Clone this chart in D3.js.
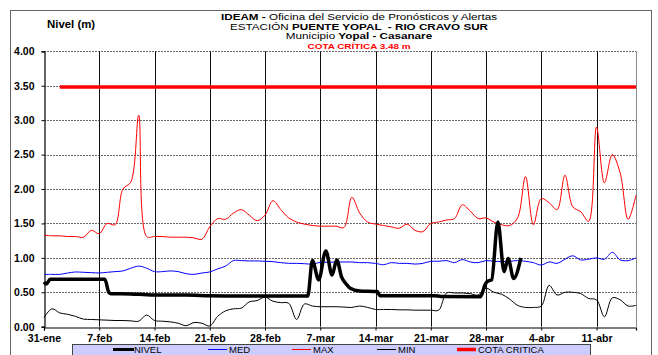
<!DOCTYPE html>
<html><head><meta charset="utf-8">
<script src="https://cdnjs.cloudflare.com/ajax/libs/d3/7.8.5/d3.min.js"></script>
<style>
html,body{margin:0;padding:0;background:#fff;}
svg{display:block;font-family:"Liberation Sans",Arial,sans-serif;}
</style></head>
<body><svg id="c" width="658" height="355"></svg>
<script>
// ---- data ----
const startDate = "2015-01-31";
const endDate = "2015-04-16";
const tickDates = ["2015-01-31","2015-02-07","2015-02-14","2015-02-21","2015-02-28","2015-03-07","2015-03-14","2015-03-21","2015-03-28","2015-04-04","2015-04-11"];
const yTicks = [0,0.5,1,1.5,2,2.5,3,3.5,4];
const meses = ["ene","feb","mar","abr","may","jun","jul","ago","sep","oct","nov","dic"];

// daily series, starting 31-ene
const maxValues = [1.33,1.32,1.32,1.31,1.31,1.30,1.40,1.35,1.50,1.48,2.00,2.10,3.07,1.31,1.31,1.31,1.30,1.30,1.30,1.29,1.27,1.45,1.57,1.56,1.65,1.70,1.62,1.54,1.62,1.83,1.70,1.58,1.52,1.49,1.47,1.46,1.46,1.46,1.44,1.88,1.65,1.52,1.49,1.47,1.45,1.43,1.49,1.40,1.38,1.50,1.52,1.55,1.57,1.77,1.68,1.57,1.58,1.52,1.48,1.47,1.58,2.18,1.48,1.86,1.80,1.70,2.20,1.74,1.67,1.53,2.90,2.09,2.50,2.23,1.56,1.91];
const medValues = [0.76,0.76,0.76,0.78,0.795,0.79,0.785,0.78,0.79,0.80,0.81,0.85,0.88,0.85,0.80,0.80,0.81,0.80,0.77,0.76,0.78,0.795,0.84,0.88,0.96,0.96,0.955,0.955,0.95,0.945,0.93,0.92,0.92,0.915,0.91,0.935,0.935,0.94,0.94,0.94,0.93,0.93,0.92,0.90,0.93,0.92,0.92,0.91,0.92,0.95,0.95,0.96,0.93,0.975,0.94,0.93,0.96,0.95,0.945,0.95,0.96,0.95,0.93,0.895,0.94,0.92,0.98,1.03,0.97,0.98,1.00,0.98,1.08,0.97,0.96,1.00];
const minValues = [0.13,0.26,0.20,0.18,0.15,0.11,0.105,0.10,0.095,0.09,0.09,0.085,0.08,0.17,0.09,0.08,0.07,0.05,0.015,0.06,0.05,0.01,0.15,0.23,0.26,0.27,0.36,0.38,0.43,0.37,0.35,0.34,0.105,0.33,0.30,0.29,0.29,0.29,0.285,0.28,0.30,0.28,0.25,0.25,0.25,0.245,0.245,0.24,0.24,0.24,0.24,0.49,0.49,0.49,0.48,0.46,0.56,0.50,0.47,0.40,0.31,0.28,0.28,0.30,0.60,0.46,0.50,0.50,0.48,0.41,0.39,0.145,0.42,0.39,0.30,0.31];

// NIVEL observations (date-time, m)
const nivelTimes = ["2015-01-31T00:00","2015-01-31T07:00","2015-01-31T19:00","2015-02-07T17:00","2015-02-08T05:00","2015-02-08T12:00","2015-02-11T00:00","2015-02-13T00:00","2015-02-15T00:00","2015-02-18T00:00","2015-02-21T00:00","2015-02-25T00:00","2015-02-28T00:00","2015-03-05T10:00","2015-03-06T00:00","2015-03-06T19:00","2015-03-07T17:00","2015-03-08T12:00","2015-03-09T02:00","2015-03-09T17:00","2015-03-10T07:00","2015-03-10T19:00","2015-03-12T00:00","2015-03-14T05:00","2015-03-14T14:00","2015-03-21T12:00","2015-03-22T07:00","2015-03-27T07:00","2015-03-27T22:00","2015-03-28T05:00","2015-03-28T17:00","2015-03-29T12:00","2015-03-30T07:00","2015-03-30T19:00","2015-03-31T12:00","2015-04-01T10:00"];
const nivelValues = [0.65,0.62,0.69,0.69,0.50,0.48,0.475,0.465,0.46,0.46,0.45,0.445,0.445,0.445,0.96,0.68,1.10,0.75,0.97,0.72,0.62,0.56,0.52,0.51,0.45,0.45,0.44,0.435,0.62,0.66,0.68,1.52,0.80,0.99,0.70,1.00];

const cotaCritica = 3.48;
const cotaStart = "2015-02-02";

// ---- drawing ----
const parse = d3.timeParse("%Y-%m-%d");
const parseT = d3.timeParse("%Y-%m-%dT%H:%M");
const t0 = parse(startDate), t1 = parse(endDate);
const days = maxValues.map((_, i) => d3.timeDay.offset(t0, i));

const svg = d3.select("#c");
const x = d3.scaleTime().domain([t0, t1]).range([44, 636]);
const y = d3.scaleLinear().domain([0, 4]).range([326.7, 51.3]);

// outer frame
svg.append("rect").attr("x", 10.5).attr("y", 10.5).attr("width", 641).attr("height", 370)
  .attr("fill", "#fff").attr("stroke", "#666").attr("stroke-width", 1);

// horizontal gridlines
svg.append("g").selectAll("line").data(yTicks.filter(v => v > 0)).join("line")
  .attr("x1", 44).attr("x2", 636)
  .attr("y1", d => Math.round(y(d)) + 0.5).attr("y2", d => Math.round(y(d)) + 0.5)
  .attr("stroke", "#6a6a6a").attr("stroke-width", 1).attr("stroke-dasharray", "2,1");

// vertical lines
const tDates = tickDates.map(parse);
svg.append("g").selectAll("line").data(tDates.slice(1)).join("line")
  .attr("x1", d => Math.round(x(d)) + 0.5).attr("x2", d => Math.round(x(d)) + 0.5)
  .attr("y1", y(4)).attr("y2", y(0))
  .attr("stroke", "#111").attr("stroke-width", 1);

// right border
svg.append("line").attr("x1", 636.5).attr("x2", 636.5).attr("y1", y(4)).attr("y2", y(0))
  .attr("stroke", "#888").attr("stroke-width", 1);

// axes
const fmtDate = d => d.getDate() + "-" + meses[d.getMonth()];
const yAxis = svg.append("g").attr("transform", "translate(44.5,0)")
  .call(d3.axisLeft(y).tickValues(yTicks).tickFormat(d3.format(".2f")).tickSize(3).tickPadding(7));
const xAxis = svg.append("g").attr("transform", "translate(0," + (Math.round(y(0)) + 0.5) + ")")
  .call(d3.axisBottom(x).tickValues(tDates).tickFormat(fmtDate).tickSize(3).tickPadding(4));
[yAxis, xAxis].forEach(g => {
  g.select(".domain").attr("stroke", "#000").attr("stroke-width", 1.2);
  g.selectAll(".tick line").attr("stroke", "#000");
  g.selectAll("text").attr("fill", "#000").attr("font-weight", "bold")
    .attr("font-size", "10.5px").attr("font-family", "'Liberation Sans',Arial,sans-serif");
});

// lines
const smooth = d3.line().x((d, i) => x(days[i])).y(d => y(d)).curve(d3.curveCatmullRom.alpha(0.5));
svg.append("path").datum(minValues).attr("d", smooth).attr("fill", "none").attr("stroke", "#000").attr("stroke-width", 1);
svg.append("path").datum(medValues).attr("d", smooth).attr("fill", "none").attr("stroke", "#0000ff").attr("stroke-width", 1);
svg.append("path").datum(maxValues).attr("d", smooth).attr("fill", "none").attr("stroke", "#ff0000").attr("stroke-width", 1);

const nivel = nivelTimes.map((t, i) => ({ t: parseT(t), v: nivelValues[i] }));
svg.append("path").datum(nivel)
  .attr("d", d3.line().x(d => x(d.t)).y(d => y(d.v)).curve(d3.curveMonotoneX))
  .attr("fill", "none").attr("stroke", "#000").attr("stroke-width", 3.5).attr("stroke-linejoin", "round");

svg.append("line").attr("x1", x(parse(cotaStart))).attr("x2", x(t1))
  .attr("y1", y(cotaCritica)).attr("y2", y(cotaCritica))
  .attr("stroke", "#ff0000").attr("stroke-width", 3.5);

// titles (horizontally stretched like the original rendering)
const sx = 1.23;
function titleLine(yPos) {
  return svg.append("text").attr("text-anchor", "middle").attr("font-size", "9.5px").attr("fill", "#000")
    .attr("transform", "translate(359," + yPos + ") scale(" + sx + ",1)");
}
const l1 = titleLine(19.5);
l1.append("tspan").attr("font-weight", "bold").text("IDEAM - ");
l1.append("tspan").text("Oficina del Servicio de Pronósticos y Alertas");
const l2 = titleLine(29.5);
l2.append("tspan").text("ESTACIÓN ");
l2.append("tspan").attr("font-weight", "bold").attr("xml:space", "preserve").text("PUENTE YOPAL  - RIO CRAVO SUR");
const l3 = titleLine(39);
l3.append("tspan").text("Municipio ");
l3.append("tspan").attr("font-weight", "bold").text("Yopal - Casanare");
titleLine(49).attr("font-size", "7.5px").attr("font-weight", "bold").attr("fill", "#ff0000")
  .attr("transform", "translate(359,49) scale(1.32,1)")
  .text("COTA CRÍTICA " + cotaCritica.toFixed(2) + " m");

svg.append("text").attr("transform", "translate(47,28) scale(1.14,1)")
  .attr("font-size", "10px").attr("font-weight", "bold").text("Nivel (m)");

// legend
const legendNames = ["NIVEL","MED","MAX","MIN","COTA CRITICA"];
const legendColors = ["#000","#0000ff","#ff0000","#000","#ff0000"];
const legendWidths = [3,1,1,1,3.5];
const legendX = [113, 208, 292, 377, 457];
svg.append("rect").attr("x", 72.5).attr("y", 344.5).attr("width", 518).attr("height", 20)
  .attr("fill", "#ccccff").attr("stroke", "#444");
const lg = svg.append("g").selectAll("g").data(legendNames).join("g")
  .attr("transform", (d, i) => "translate(" + legendX[i] + ",0)");
lg.append("line").attr("x1", 0).attr("x2", (d, i) => i === 0 ? 21 : 19).attr("y1", 349.5).attr("y2", 349.5)
  .attr("stroke", (d, i) => legendColors[i]).attr("stroke-width", (d, i) => legendWidths[i]);
lg.append("text").attr("x", 21).attr("y", 353).attr("font-size", "9.5px").text(d => d);
</script></body></html>
